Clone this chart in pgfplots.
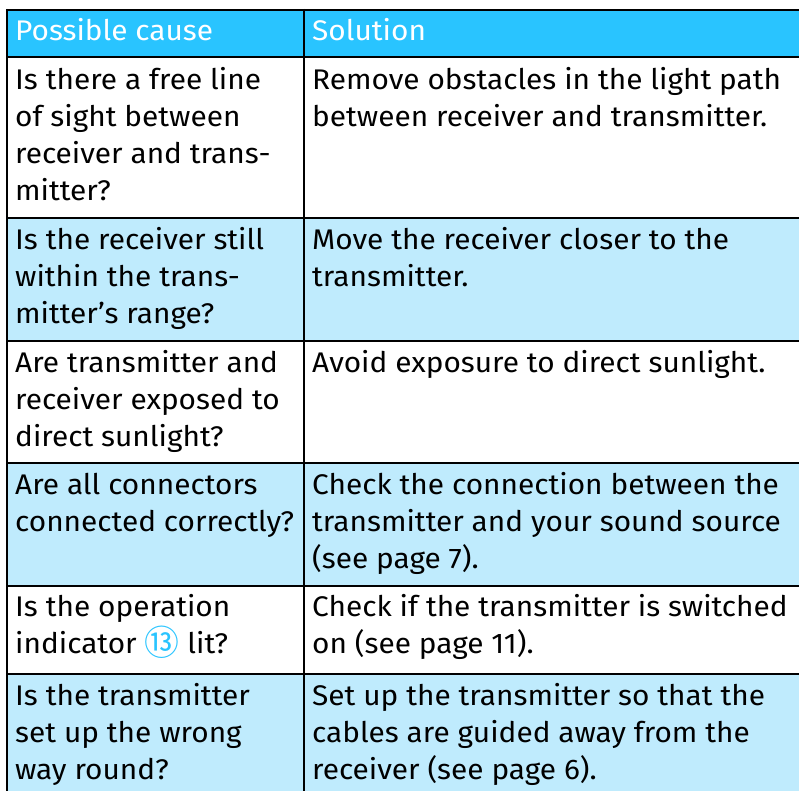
\documentclass[border=0pt]{standalone}
\usepackage{pgfplots}
\pgfplotsset{compat=1.18}
\usepackage{fontspec}
\setmainfont[FakeStretch=1.05]{Fira Sans}
\newfontfamily\cjk{Noto Sans CJK JP}
\definecolor{hdr}{RGB}{41,196,255}
\definecolor{lite}{RGB}{191,235,253}
\newcommand\tl[3]{\node[anchor=base west,inner sep=0pt,font=\fontsize{28.5}{37}\selectfont] at (axis cs:#1,#2) {#3};}
\newcommand\hl[3]{\node[anchor=base west,inner sep=0pt,text=white,font=\fontsize{28.5}{37}\selectfont] at (axis cs:#1,#2) {#3};}
\begin{document}
\begin{tikzpicture}
\begin{axis}[name=ax,width=799bp,height=791bp,scale only axis,
  xmin=0,xmax=799,ymin=0,ymax=791,y dir=reverse,hide axis,clip=false]
% fills
\addplot[fill=hdr,draw=none] coordinates {(7,10)(799,10)(799,57)(7,57)} -- cycle;
\addplot[fill=lite,draw=none] coordinates {(7,218)(799,218)(799,341)(7,341)} -- cycle;
\addplot[fill=lite,draw=none] coordinates {(7,463)(799,463)(799,586)(7,586)} -- cycle;
\addplot[fill=lite,draw=none] coordinates {(7,674)(799,674)(799,791)(7,791)} -- cycle;
% rules
\addplot[black,line width=2bp] coordinates {(6,10)(799,10)};
\addplot[black,line width=2bp] coordinates {(6,57)(799,57)};
\addplot[black,line width=2bp] coordinates {(6,218)(799,218)};
\addplot[black,line width=2bp] coordinates {(6,341)(799,341)};
\addplot[black,line width=2bp] coordinates {(6,463)(799,463)};
\addplot[black,line width=2bp] coordinates {(6,586)(799,586)};
\addplot[black,line width=2bp] coordinates {(6,674)(799,674)};
\addplot[black,line width=2bp] coordinates {(7,9)(7,791)};
\addplot[black,line width=2bp] coordinates {(304,9)(304,791)};
% header
\hl{15}{41}{Possible cause}
\hl{312}{41}{Solution}
% row 1
\tl{15}{90}{Is there a free line}
\tl{15}{127}{of sight between}
\tl{15}{164}{receiver and trans-}
\tl{15}{201}{mitter?}
\tl{312}{90}{Remove obstacles in the light path}
\tl{312}{127}{between receiver and transmitter.}
% row 2
\tl{15}{249}{Is the receiver still}
\tl{15}{286}{within the trans-}
\tl{15}{323}{mitter’s range?}
\tl{312}{249}{Move the receiver closer to the}
\tl{312}{286}{transmitter.}
% row 3
\tl{15}{372}{Are transmitter and}
\tl{15}{409}{receiver exposed to}
\tl{15}{446}{direct sunlight?}
\tl{312}{372}{Avoid exposure to direct sunlight.}
% row 4
\tl{15}{494}{Are all connectors}
\tl{15}{531}{connected correctly?}
\tl{312}{494}{Check the connection between the}
\tl{312}{531}{transmitter and your sound source}
\tl{312}{568}{(see page 7).}
% row 5
\tl{15}{616}{Is the operation}
\tl{15}{653}{indicator \raisebox{-2bp}{\cjk\fontsize{35}{35}\selectfont\color{hdr}⑬} lit?}
\tl{312}{616}{Check if the transmitter is switched}
\tl{312}{653}{on (see page 11).}
% row 6
\tl{15}{705}{Is the transmitter}
\tl{15}{742}{set up the wrong}
\tl{15}{779}{way round?}
\tl{312}{705}{Set up the transmitter so that the}
\tl{312}{742}{cables are guided away from the}
\tl{312}{779}{receiver (see page 6).}
\end{axis}
\pgfresetboundingbox
\path (ax.south west) rectangle (ax.north east);
\end{tikzpicture}
\end{document}
